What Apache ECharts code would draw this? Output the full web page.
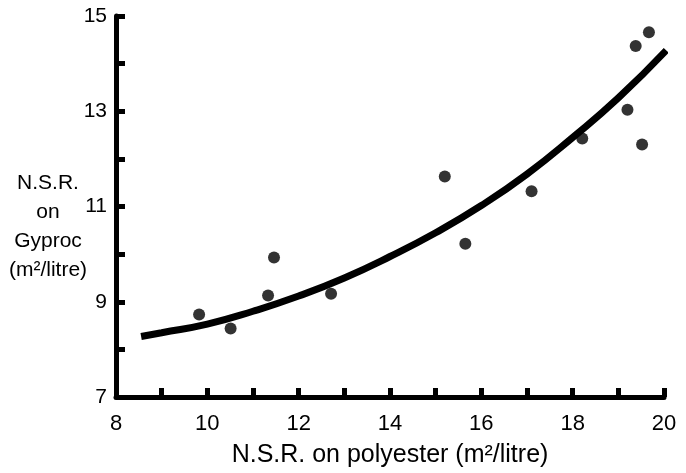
<!DOCTYPE html>
<html>
<head>
<meta charset="utf-8">
<script src="https://cdn.jsdelivr.net/npm/echarts@6/dist/echarts.min.js"></script>
<style>
html,body{margin:0;padding:0;background:#fff;}
#chart{width:686px;height:473px;}
</style>
</head>
<body>
<div id="chart"></div>
<script>
// Observed points: N.S.R. on polyester (x) vs N.S.R. on Gyproc (y)
const pointX = [9.82, 10.51, 11.33, 11.46, 12.71, 15.20, 15.65, 17.10, 18.21, 19.20, 19.52, 19.38, 19.67];
const pointY = [8.73, 8.44, 9.13, 9.93, 9.17, 11.63, 10.22, 11.32, 12.43, 13.03, 12.30, 14.37, 14.66];
// Fitted curve
const curveX = [8.55, 9, 10, 11, 12, 13, 14, 15, 16, 17, 18, 19, 20.05];
const curveY = [8.27, 8.35, 8.53, 8.80, 9.12, 9.50, 9.95, 10.45, 11.02, 11.68, 12.45, 13.28, 14.28];
const xTickLabels = [8, 10, 12, 14, 16, 18, 20];
const yTickLabels = [7, 9, 11, 13, 15];

const xTitle = 'N.S.R. on polyester (m²/litre)';
const yTitle = 'N.S.R.\non\nGyproc\n(m²/litre)';

const font = '"Liberation Sans", Arial, Helvetica, sans-serif';
const ink = '#000';

const chart = echarts.init(document.getElementById('chart'), null, {renderer: 'canvas'});
chart.setOption({
  backgroundColor: '#fff',
  animation: false,
  grid: {left: 116, top: 16, width: 548, height: 389, containLabel: false},
  graphic: [{
    type: 'text',
    x: 48,
    y: 169,
    style: {
      text: yTitle,
      align: 'center',
      verticalAlign: 'top',
      fill: ink,
      fontSize: 21,
      fontFamily: font,
      lineHeight: 29
    }
  }],
  xAxis: {
    type: 'value', min: 8, max: 20, interval: 1,
    name: xTitle, nameLocation: 'middle', nameGap: 46,
    nameTextStyle: {color: ink, fontSize: 25, fontFamily: font},
    axisLine: {show: true, onZero: false, lineStyle: {color: ink, width: 5}},
    axisTick: {show: true, inside: true, length: 9, lineStyle: {color: ink, width: 5}},
    axisLabel: {
      color: ink, fontSize: 22, fontFamily: font, margin: 16,
      formatter: v => xTickLabels.includes(v) ? String(v) : ''
    },
    splitLine: {show: false}
  },
  yAxis: {
    type: 'value', min: 7, max: 15, interval: 1,
    axisLine: {show: true, onZero: false, lineStyle: {color: ink, width: 5}},
    axisTick: {show: true, inside: true, length: 9, lineStyle: {color: ink, width: 5}},
    axisLabel: {
      color: ink, fontSize: 21, fontFamily: font, margin: 9,
      formatter: v => yTickLabels.includes(v) ? String(v) : ''
    },
    splitLine: {show: false}
  },
  series: [
    {
      type: 'line',
      data: curveX.map((x, i) => [x, curveY[i]]),
      smooth: true,
      showSymbol: false,
      lineStyle: {color: ink, width: 7, cap: 'butt'},
      z: 2
    },
    {
      type: 'scatter',
      data: pointX.map((x, i) => [x, pointY[i]]),
      symbol: 'circle',
      symbolSize: 12,
      itemStyle: {color: ink},
      z: 3
    }
  ]
});
</script>
</body>
</html>
